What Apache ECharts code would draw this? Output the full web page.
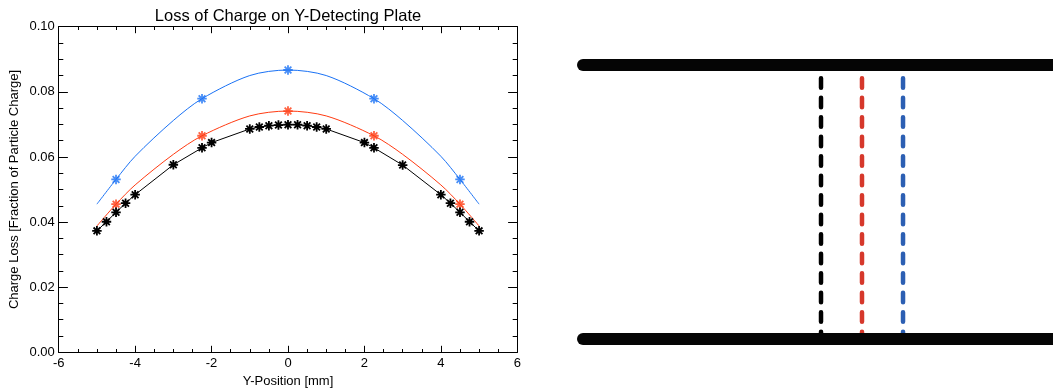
<!DOCTYPE html>
<html>
<head>
<meta charset="utf-8">
<script src="https://cdn.jsdelivr.net/npm/echarts@6/dist/echarts.min.js"></script>
<style>
  html, body { margin: 0; padding: 0; background: #fff; }
  #chart { width: 1053px; height: 389px; }
</style>
</head>
<body>
<div id="chart"></div>
<script>
// ---- Charge loss vs. beam Y-position ----
// measured scan (black)
const scanX = [-5, -4.75, -4.5, -4.25, -4, -3, -2.25, -2, -1, -0.75, -0.5, -0.25, 0,
               0.25, 0.5, 0.75, 1, 2, 2.25, 3, 4, 4.25, 4.5, 4.75, 5];
const scanY = [0.0373, 0.0401, 0.0430, 0.0458, 0.0484, 0.0576, 0.0628, 0.0644, 0.0686, 0.0692, 0.0696, 0.0698, 0.0699,
               0.0699, 0.0696, 0.0692, 0.0686, 0.0644, 0.0628, 0.0575, 0.0484, 0.0458, 0.0430, 0.0401, 0.0373];

// offset cases: sampled points
const sampleX = [-4.5, -2.25, 0, 2.25, 4.5];
const redSampleY = [0.0455, 0.0665, 0.0741, 0.0665, 0.0455];
const blueSampleY = [0.0531, 0.0779, 0.0867, 0.0779, 0.0531];

// offset cases: fitted curves
const fitX = [-5, -4.5, -4, -3, -2.25, -1, 0, 1, 2.25, 3, 4, 4.5, 5];
const redFitY = [0.0388, 0.0455, 0.0514, 0.0608, 0.0665, 0.0726, 0.0741, 0.0726, 0.0665, 0.0608, 0.0514, 0.0455, 0.0388];
const blueFitY = [0.0455, 0.0531, 0.0602, 0.0712, 0.0779, 0.0850, 0.0867, 0.0850, 0.0779, 0.0712, 0.0602, 0.0531, 0.0455];

// axis ticks
const xTicks = [-6, -4, -2, 0, 2, 4, 6];
const yTicks = [0.00, 0.02, 0.04, 0.06, 0.08, 0.10];

// ---- plate schematic (normalised units) ----
const plateLevels = [0, 1];          // bottom plate, top plate
const plateExtent = [0, 1.05];
const beamPositions = [0.5064, 0.5936, 0.6809];   // black, red, blue beam
const beamColors = ['#000000', '#d6382b', '#2c5fb3'];
const beamTop = 0.952;

const RED = '#ff3b12';
const BLUE = '#1a72f5';
const FONT = '"Liberation Sans", Arial, Helvetica, sans-serif';

function pairs(xs, ys) { return xs.map((x, i) => [x, ys[i]]); }

// asterisk marker: four crossing bars
function asteriskPath() {
  const c = 50, L = 50, w = 9.5;
  let d = '';
  for (let k = 0; k < 4; k++) {
    const a = k * Math.PI / 4, dx = Math.cos(a), dy = Math.sin(a), px = -dy, py = dx;
    const pts = [
      [c + L * dx + w * px, c + L * dy + w * py],
      [c + L * dx - w * px, c + L * dy - w * py],
      [c - L * dx - w * px, c - L * dy - w * py],
      [c - L * dx + w * px, c - L * dy + w * py]
    ];
    d += 'M' + pts.map(p => p[0].toFixed(2) + ',' + p[1].toFixed(2)).join(' L') + ' Z ';
  }
  return 'path://' + d;
}
const STAR = asteriskPath();

const xMin = xTicks[0], xMax = xTicks[xTicks.length - 1];
const yMin = yTicks[0], yMax = yTicks[yTicks.length - 1];

function frameX(position, showLabels) {
  return {
    type: 'value', gridIndex: 0, position: position,
    min: xMin, max: xMax, interval: 2,
    axisLine: { show: true, onZero: false, lineStyle: { color: '#000', width: 1 } },
    axisTick: { show: true, inside: true, length: 6.5, lineStyle: { color: '#000', width: 1 } },
    minorTick: { show: true, splitNumber: 4, length: 3.3, lineStyle: { color: '#000', width: 1 } },
    splitLine: { show: false },
    axisLabel: { show: showLabels, color: '#000', fontSize: 13, fontFamily: FONT, margin: 5 },
    name: showLabels ? 'Y-Position [mm]' : '',
    nameLocation: 'middle', nameGap: 21,
    nameTextStyle: { color: '#000', fontSize: 13, fontFamily: FONT }
  };
}
function frameY(position, showLabels) {
  return {
    type: 'value', gridIndex: 0, position: position,
    min: yMin, max: yMax, interval: 0.02,
    axisLine: { show: true, onZero: false, lineStyle: { color: '#000', width: 1 } },
    axisTick: { show: true, inside: true, length: 9.2, lineStyle: { color: '#000', width: 1 } },
    minorTick: { show: true, splitNumber: 4, length: 4.6, lineStyle: { color: '#000', width: 1 } },
    splitLine: { show: false },
    axisLabel: { show: showLabels, color: '#000', fontSize: 13, fontFamily: FONT, margin: 4,
                 formatter: v => v.toFixed(2) },
    name: showLabels ? 'Charge Loss [Fraction of Particle Charge]' : '',
    nameLocation: 'middle', nameGap: 38,
    nameTextStyle: { color: '#000', fontSize: 13, fontFamily: FONT }
  };
}

const hiddenAxis = { type: 'value', gridIndex: 1, min: 0, max: 1, show: false };

const series = [
  // fitted curves
  { type: 'line', xAxisIndex: 0, yAxisIndex: 0, data: pairs(fitX, blueFitY), smooth: 0.3,
    symbol: 'none', lineStyle: { color: BLUE, width: 1 }, z: 3 },
  { type: 'line', xAxisIndex: 0, yAxisIndex: 0, data: pairs(fitX, redFitY), smooth: 0.3,
    symbol: 'none', lineStyle: { color: RED, width: 1 }, z: 3 },
  // sampled points
  { type: 'scatter', xAxisIndex: 0, yAxisIndex: 0, data: pairs(sampleX, blueSampleY),
    symbol: STAR, symbolSize: 9.5, itemStyle: { color: BLUE }, z: 4 },
  { type: 'scatter', xAxisIndex: 0, yAxisIndex: 0, data: pairs(sampleX, redSampleY),
    symbol: STAR, symbolSize: 9.5, itemStyle: { color: RED }, z: 4 },
  // measured scan
  { type: 'line', xAxisIndex: 0, yAxisIndex: 0, data: pairs(scanX, scanY),
    symbol: STAR, symbolSize: 9.5, showAllSymbol: true,
    itemStyle: { color: '#000' }, lineStyle: { color: '#000', width: 1 }, z: 5 }
];

// beams between the plates
beamPositions.forEach((bx, i) => {
  series.push({
    type: 'line', xAxisIndex: 2, yAxisIndex: 2, clip: false, silent: true,
    data: [[bx, beamTop], [bx, plateLevels[0]]],
    symbol: 'none',
    lineStyle: { color: beamColors[i], width: 4.5, type: [9.5, 10], cap: 'round' },
    z: 2
  });
});
// plates
plateLevels.forEach(py => {
  series.push({
    type: 'line', xAxisIndex: 2, yAxisIndex: 2, clip: false, silent: true,
    data: [[plateExtent[0], py], [plateExtent[1], py]],
    symbol: 'none',
    lineStyle: { color: '#050505', width: 12, cap: 'round' },
    z: 3
  });
});

const chart = echarts.init(document.getElementById('chart'), null, { renderer: 'canvas' });
chart.setOption({
  animation: false,
  backgroundColor: '#fff',
  title: {
    text: 'Loss of Charge on Y-Detecting Plate',
    left: 283, top: 3, textAlign: 'center',
    textStyle: { color: '#000', fontSize: 16.5, fontWeight: 'normal', fontFamily: FONT }
  },
  grid: [
    { left: 58.7, right: 535.7, top: 26.7, bottom: 36.7, outerBoundsMode: 'none', containLabel: false },
    { left: 583, right: 0, top: 65, bottom: 50, outerBoundsMode: 'none', containLabel: false }
  ],
  xAxis: [frameX('bottom', true), frameX('top', false), Object.assign({}, hiddenAxis)],
  yAxis: [frameY('left', true), frameY('right', false), Object.assign({}, hiddenAxis)],
  series: series
});
</script>
</body>
</html>
